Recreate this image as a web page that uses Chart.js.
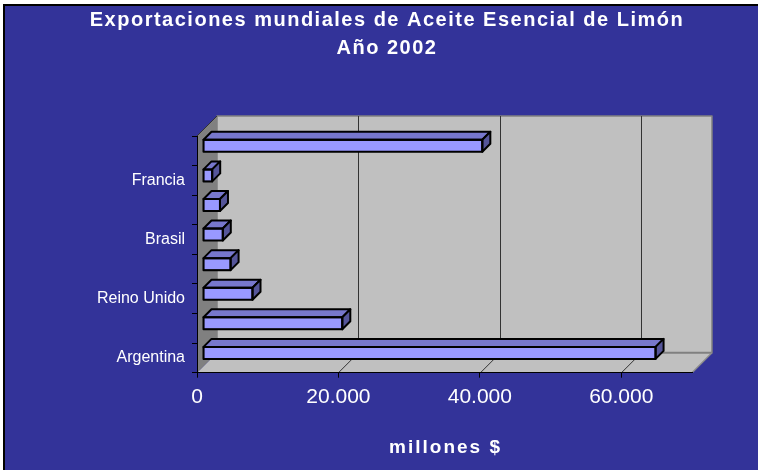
<!DOCTYPE html>
<html>
<head>
<meta charset="utf-8">
<script src="https://cdn.jsdelivr.net/npm/chart.js@4/dist/chart.umd.min.js"></script>
<style>
  html, body { margin: 0; padding: 0; background: #fff; }
  canvas { display: block; }
</style>
</head>
<body>
<canvas id="aceitechart" width="758" height="470"></canvas>
<script>
const titleLines = ["Exportaciones mundiales de Aceite Esencial de Limón", "Año 2002"];
const axisTitle = "millones $";
// bottom to top, only every other country is labelled in the original
const countries = ["Argentina", "", "Reino Unido", "", "Brasil", "", "Francia", ""];
const exports2002 = [64000, 19700, 7000, 3900, 2800, 2400, 1300, 39500];
const xTicks = [0, 20000, 40000, 60000];
const xMax = 70000;

const FONT = "'Liberation Sans', Arial, sans-serif";
const BLUE = "#333399";
const DEPTH = 20;       // wall depth
const BAR_DEPTH = 8;    // bar depth
const BAR_SHIFT = { x: 6, y: -5 };

const fmt = (v) => String(v).replace(/\B(?=(\d{3})+(?!\d))/g, ".");

const line = (ctx, x1, y1, x2, y2, color, w) => {
    ctx.beginPath();
    ctx.moveTo(x1, y1);
    ctx.lineTo(x2, y2);
    ctx.strokeStyle = color;
    ctx.lineWidth = w;
    ctx.stroke();
};

const poly = (ctx, pts, fill, stroke, w) => {
    ctx.beginPath();
    ctx.moveTo(pts[0][0], pts[0][1]);
    for (let i = 1; i < pts.length; i++) ctx.lineTo(pts[i][0], pts[i][1]);
    ctx.closePath();
    ctx.fillStyle = fill;
    ctx.fill();
    if (stroke) {
        ctx.strokeStyle = stroke;
        ctx.lineWidth = w;
        ctx.lineJoin = "round";
        ctx.stroke();
    }
};

const excel3d = {
    id: "excel3d",
    beforeDraw(chart) {
        const { ctx, chartArea: a, scales } = chart;
        const L = a.left, R = a.right, T = a.top, B = a.bottom, D = DEPTH;
        ctx.save();
        // frame
        ctx.fillStyle = "#fff";
        ctx.fillRect(0, 0, chart.width, chart.height);
        ctx.fillStyle = "#000";
        ctx.fillRect(3, 4, chart.width, chart.height);
        ctx.fillStyle = BLUE;
        ctx.fillRect(5, 6, chart.width, chart.height);

        // back wall
        poly(ctx, [[L + D, T - D], [R + D, T - D], [R + D, B - D], [L + D, B - D]], "#c0c0c0", "#808080", 1.5);
        // floor
        poly(ctx, [[L, B], [R, B], [R + D, B - D], [L + D, B - D]], "#c0c0c0");
        line(ctx, L + D, B - D, R + D, B - D, "#808080", 2);
        line(ctx, R + D, B - D, R, B, "#8c8c8c", 1.5);
        // left wall
        poly(ctx, [[L, T], [L + D, T - D], [L + D, B - D], [L, B]], "#808080");
        line(ctx, L, T, L + D, T - D, "#333", 1);

        // gridlines on wall and floor
        scales.x.ticks.forEach((t) => {
            if (t.value === 0) return;
            const px = Math.round(scales.x.getPixelForValue(t.value)) + 0.5;
            line(ctx, px + D, T - D, px + D, B - D, "#333", 1);
            line(ctx, px, B, px + D, B - D, "#333", 1);
        });

        // titles
        ctx.fillStyle = "#fff";
        ctx.textAlign = "center";
        ctx.textBaseline = "alphabetic";
        ctx.font = "bold 20px " + FONT;
        ctx.letterSpacing = "1.5px";
        ctx.fillText(titleLines[0], 387, 26);
        ctx.fillText(titleLines[1], 387, 54);
        ctx.font = "bold 19px " + FONT;
        ctx.letterSpacing = "2px";
        ctx.fillText(axisTitle, (L + R) / 2 + 1, 453);
        ctx.letterSpacing = "0px";
        ctx.restore();
    },
    beforeDatasetsDraw(chart) {
        chart.ctx.save();
        chart.ctx.translate(BAR_SHIFT.x, BAR_SHIFT.y);
    },
    afterDatasetsDraw(chart) {
        const ctx = chart.ctx;
        const d = BAR_DEPTH;
        chart.getDatasetMeta(0).data.forEach((el) => {
            const { x, y, base, height } = el.getProps(["x", "y", "base", "height"], true);
            const x0 = Math.min(x, base), x1 = Math.max(x, base);
            const y0 = y - height / 2, y1 = y + height / 2;
            poly(ctx, [[x0, y0], [x0 + d, y0 - d], [x1 + d, y0 - d], [x1, y0]], "#7777cc", "#000", 2);
            poly(ctx, [[x1, y0], [x1 + d, y0 - d], [x1 + d, y1 - d], [x1, y1]], "#555599", "#000", 2);
            ctx.strokeStyle = "#000";
            ctx.lineWidth = 2;
            ctx.strokeRect(x0, y0, x1 - x0, y1 - y0);
        });
        ctx.restore();
    },
};

new Chart(document.getElementById("aceitechart"), {
    type: "bar",
    data: {
        labels: countries,
        datasets: [
            {
                label: "Exportaciones 2002",
                data: exports2002,
                backgroundColor: "#9999ff",
                borderColor: "#000",
                borderWidth: 1,
                borderSkipped: false,
                barThickness: 12,
                clip: false,
            },
        ],
    },
    options: {
        indexAxis: "y",
        responsive: false,
        animation: false,
        devicePixelRatio: 1,
        layout: { padding: { top: 136, right: 66, bottom: 0, left: 0 } },
        plugins: {
            legend: { display: false },
            title: { display: false },
            tooltip: { enabled: false },
        },
        scales: {
            x: {
                min: 0,
                max: xMax,
                ticks: {
                    color: "#fff",
                    font: { family: FONT, size: 21 },
                    padding: 7,
                    maxRotation: 0,
                    callback: (v) => fmt(v),
                },
                afterBuildTicks: (s) => {
                    s.ticks = xTicks.map((v) => ({ value: v }));
                },
                grid: { drawOnChartArea: false, drawTicks: true, tickLength: 5, color: "#000" },
                border: { color: "#000", width: 1 },
                afterFit: (s) => { s.height = 97.3; },
            },
            y: {
                reverse: true,
                ticks: {
                    autoSkip: false,
                    color: "#fff",
                    font: { family: FONT, size: 16 },
                    padding: 7,
                },
                grid: { drawOnChartArea: false, drawTicks: true, tickLength: 5, color: "#000", offset: true },
                border: { color: "#000", width: 1 },
                afterFit: (s) => { s.width = 197; },
            },
        },
    },
    plugins: [excel3d],
});
</script>
</body>
</html>
